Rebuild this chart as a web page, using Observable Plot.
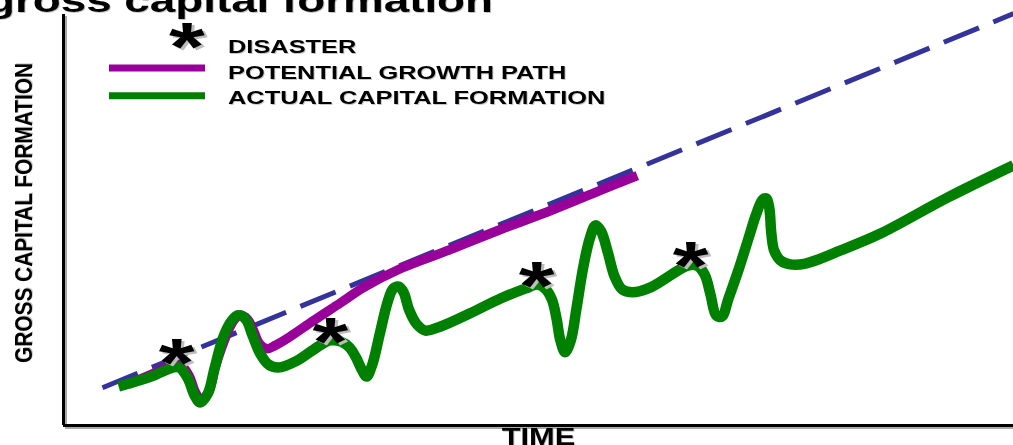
<!DOCTYPE html>
<html>
<head>
<meta charset="utf-8">
<script src="https://cdn.jsdelivr.net/npm/d3@7"></script>
<script src="https://cdn.jsdelivr.net/npm/@observablehq/plot@0.6"></script>
<style>
  html, body { margin: 0; padding: 0; background: #fff; }
  #chart { position: relative; width: 1013px; height: 445px; overflow: hidden; }
  #chart svg { position: absolute; left: 0; top: 0; overflow: visible; }
  g[aria-description="disaster"] text, .legend-star { filter: drop-shadow(3px 2.5px 0 #bdbdbd); }
  g[aria-description="axis-label"] text, .legend-text, .title { filter: drop-shadow(1.5px 1.5px 0 #c6c6c6); }
</style>
</head>
<body>
<div id="chart"></div>
<script>
// Actual gross capital formation over time (index units)
const time = [5.8, 9.2, 11.5, 12.2, 13.1, 13.8, 14.4, 15.2, 15.9, 16.8, 17.7, 18.4, 19.2, 19.9, 20.7, 21.6, 22.6, 24.6, 26.8, 28.1, 29.2, 30.1, 30.8, 31.4, 31.9, 32.5, 33.3, 34.1, 34.7, 35.3, 35.8, 36.4, 37.2, 38.1, 39.7, 42.8, 46.0, 48.6, 49.9, 50.7, 51.4, 51.9, 52.3, 52.8, 53.4, 54.0, 54.7, 55.4, 56.0, 56.6, 57.3, 58.0, 58.8, 59.9, 61.8, 65.7, 66.7, 67.5, 68.1, 68.7, 69.3, 70.0, 71.1, 72.1, 72.9, 73.6, 74.0, 74.3, 74.5, 74.8, 75.5, 76.5, 78.1, 81.8, 86.0, 93.1, 100];
const actual = [9.5, 11.9, 14.1, 14.1, 11.4, 7.3, 5.6, 7.8, 13.9, 21.4, 25.5, 26.8, 25.8, 21.9, 17.5, 14.8, 14.1, 15.8, 19.2, 20.7, 20.4, 19.0, 16.5, 13.6, 11.9, 14.8, 22.4, 29.9, 33.3, 33.8, 32.4, 28.0, 24.6, 23.1, 24.1, 27.3, 30.9, 33.3, 34.3, 33.3, 30.7, 26.0, 20.7, 17.8, 20.7, 28.5, 38.4, 45.5, 48.7, 47.2, 42.1, 36.3, 33.1, 32.4, 33.6, 38.9, 38.9, 36.7, 31.9, 26.8, 26.5, 30.9, 38.2, 45.5, 51.3, 55.0, 55.2, 52.8, 47.0, 42.6, 40.1, 39.2, 39.4, 42.6, 46.7, 55.5, 63.3];

// Potential growth path (recovers after the first shock)
const potentialTime = [6.8, 9.2, 11.3, 12.3, 13.2, 13.9, 14.5, 15.3, 16.0, 17.1, 17.9, 18.6, 19.4, 20.0, 20.6, 21.4, 22.3, 23.9, 26.3, 29.2, 31.6, 35.5, 40.7, 46.0, 51.3, 56.5, 60.4];
const potential = [10.0, 12.4, 14.6, 14.8, 12.2, 8.0, 6.1, 8.3, 14.4, 21.7, 25.5, 26.8, 25.8, 23.1, 20.0, 18.7, 19.5, 21.7, 25.5, 29.9, 33.6, 38.2, 42.8, 47.7, 52.3, 57.2, 60.8];

// Long-run trend
const trendTime = [4.1, 100];
const trend = [9.2, 100.2];

// Disasters
const disasterTime = [11.9, 28.1, 49.8, 66.0];
const disasterLevel = [17.3, 22.4, 36.0, 40.9];

const legendLabels = ["DISASTER", "POTENTIAL GROWTH PATH", "ACTUAL CAPITAL FORMATION"];
const titleText = "gross capital formation";
const xLabel = "TIME";
const yLabel = "GROSS CAPITAL FORMATION";

const FONT = "'Liberation Sans', Arial, Helvetica, sans-serif";
const GREEN = "#008000", PURPLE = "#990099", NAVY = "#333399";
const STRETCH = 1.41;     // wide lettering
const STAR_SIZE = 68;
const STAR_RISE = 0.465;  // asterisk centre above the baseline, in em

const actualRows = time.map((t, i) => ({t, v: actual[i]}));
const potentialRows = potentialTime.map((t, i) => ({t, v: potential[i]}));
const trendRows = trendTime.map((t, i) => ({t, v: trend[i]}));
const disasterRows = disasterTime.map((t, i) => ({t, v: disasterLevel[i]}));

const chart = Plot.plot({
  width: 1013,
  height: 445,
  marginLeft: 63,
  marginRight: 0,
  marginTop: 14,
  marginBottom: 20,
  x: {domain: [0, 100], axis: null},
  y: {domain: [0, 100], axis: null},
  style: {fontFamily: FONT, background: "transparent", overflow: "visible"},
  marks: [
    // axes with a soft shadow
    Plot.ruleX([0], {stroke: "#a9a9a9", strokeWidth: 3, dx: 2, dy: 2}),
    Plot.ruleY([0], {stroke: "#a9a9a9", strokeWidth: 3, dx: 2, dy: 2}),
    Plot.ruleX([0], {stroke: "#000", strokeWidth: 3}),
    Plot.ruleY([0], {stroke: "#000", strokeWidth: 3}),
    Plot.line(trendRows, {x: "t", y: "v", stroke: NAVY, strokeWidth: 5, strokeDasharray: "38,15.5", strokeLinecap: "butt"}),
    Plot.line(potentialRows, {x: "t", y: "v", stroke: PURPLE, strokeWidth: 9.5, curve: "catmull-rom", strokeLinecap: "butt", strokeLinejoin: "round"}),
    Plot.line(actualRows, {x: "t", y: "v", stroke: GREEN, strokeWidth: 10.5, curve: "catmull-rom", strokeLinecap: "butt", strokeLinejoin: "round"}),
    Plot.text(disasterRows, {x: "t", y: "v", text: () => "*", fontSize: STAR_SIZE, fontWeight: "bold", fill: "#000", lineAnchor: "middle", dy: (STAR_RISE - 0.32) * STAR_SIZE, ariaDescription: "disaster"}),
    Plot.text([xLabel], {text: d => d, frameAnchor: "bottom", lineAnchor: "top", dy: 3, fontSize: 23, fontWeight: "bold", fill: "#000", ariaDescription: "axis-label"}),
    Plot.text([yLabel], {text: d => d, frameAnchor: "left", textAnchor: "middle", rotate: -90, dx: -39.5, dy: -7, fontSize: 23.5, fontWeight: "bold", fill: "#000", ariaDescription: "axis-label"})
  ]
});

const root = document.getElementById("chart");
root.appendChild(chart);

// widen lettering horizontally
function stretch(el, factor) {
  const len = el.getComputedTextLength();
  el.setAttribute("textLength", len * factor);
  el.setAttribute("lengthAdjust", "spacingAndGlyphs");
}
d3.select(chart).selectAll('g[aria-description="disaster"] text').each(function () { stretch(this, 1.35); });
d3.select(chart).selectAll('g[aria-description="axis-label"] text').each(function () {
  if (this.textContent === yLabel) {
    this.setAttribute("textLength", 300);
    this.setAttribute("lengthAdjust", "spacingAndGlyphs");
  } else stretch(this, 1.34);
});

// title and legend
const overlay = d3.select(root).append("svg")
  .attr("width", 1013).attr("height", 445)
  .style("font-family", FONT);

overlay.append("text")
  .attr("class", "title")
  .attr("x", -13).attr("y", 12)
  .attr("font-size", 33).attr("font-weight", "bold")
  .attr("textLength", 506).attr("lengthAdjust", "spacingAndGlyphs")
  .text(titleText);

const legend = overlay.append("g");
const rowY = i => 53.3 + i * 25.35;
const swatchY = [null, 68, 95.7];
const swatchColor = [null, PURPLE, GREEN];

legend.append("text")
  .attr("class", "legend-star")
  .attr("x", 187).attr("y", 38 + STAR_RISE * STAR_SIZE)
  .attr("text-anchor", "middle")
  .attr("font-size", STAR_SIZE).attr("font-weight", "bold")
  .text("*")
  .each(function () { stretch(this, 1.35); });

legendLabels.forEach((label, i) => {
  if (swatchColor[i]) {
    legend.append("line")
      .attr("x1", 109).attr("x2", 205)
      .attr("y1", swatchY[i]).attr("y2", swatchY[i])
      .attr("stroke", swatchColor[i]).attr("stroke-width", 7);
  }
  legend.append("text")
    .attr("class", "legend-text")
    .attr("x", 228).attr("y", rowY(i))
    .attr("font-size", 18).attr("font-weight", "bold")
    .text(label)
    .each(function () { stretch(this, STRETCH); });
});
</script>
</body>
</html>
